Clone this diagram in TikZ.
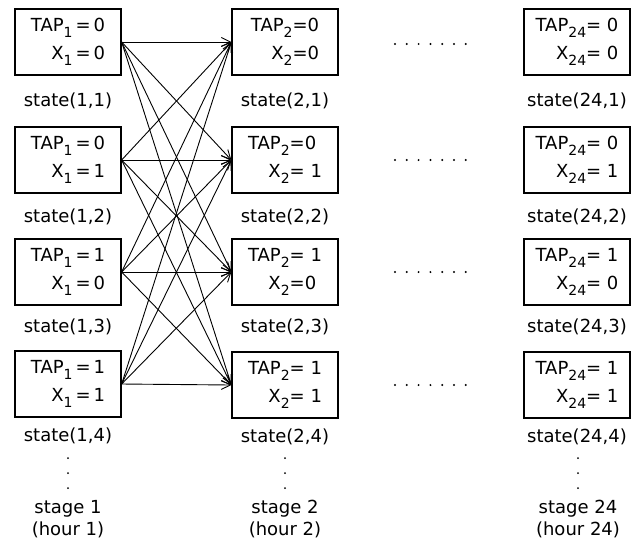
\documentclass[tikz,border=0pt]{standalone}
\usepackage{fontspec}
\setmainfont{DejaVu Sans}
\usepackage{tikz}
\usetikzlibrary{positioning,arrows.meta}

% lowered index inside the state boxes
\newcommand{\idx}[1]{\raisebox{-6pt}{\fontsize{14pt}{14pt}\selectfont #1}}

\tikzset{
  statebox/.style={draw, line width=1.3pt, minimum width=106pt, minimum height=66pt,
                   inner sep=0pt, font=\fontsize{18pt}{18pt}\selectfont},
  statelabel/.style={font=\fontsize{18pt}{22pt}\selectfont, inner sep=0pt},
  trans/.style={->, line width=0.9pt}
}

\begin{document}
\begin{tikzpicture}[x=1pt, y=-1pt, >={Straight Barb[length=9pt,width=9pt]}]
				\useasboundingbox (0,0) rectangle (644,542);
				
				% Stage 1 boxes
				\node[statebox] (s1-1) at (68,42) {\begin{tabular}{@{}r@{}l@{}}TAP\idx{1} & \,=\,0\\[9pt] X\idx{1} & \,=\,0\end{tabular}};
				\node[statebox] (s1-2) at (68,160) {\begin{tabular}{@{}r@{}l@{}}TAP\idx{1} & \,=\,0\\[9pt] X\idx{1} & \,=\,1\end{tabular}};
				\node[statebox] (s1-3) at (68,272) {\begin{tabular}{@{}r@{}l@{}}TAP\idx{1} & \,=\,1\\[9pt] X\idx{1} & \,=\,0\end{tabular}};
				\node[statebox] (s1-4) at (68,384) {\begin{tabular}{@{}r@{}l@{}}TAP\idx{1} & \,=\,1\\[9pt] X\idx{1} & \,=\,1\end{tabular}};
				
				% Stage 2 boxes
				\node[statebox] (s2-1) at (285,42) {\begin{tabular}{@{}r@{}l@{}}TAP\idx{2} & =0\\[9pt] X\idx{2} & =0\end{tabular}};
				\node[statebox] (s2-2) at (285,160) {\begin{tabular}{@{}r@{}l@{}}TAP\idx{2} & =0\\[9pt] X\idx{2} & = 1\end{tabular}};
				\node[statebox] (s2-3) at (285,272) {\begin{tabular}{@{}r@{}l@{}}TAP\idx{2} & = 1\\[9pt] X\idx{2} & =0\end{tabular}};
				\node[statebox] (s2-4) at (285,385) {\begin{tabular}{@{}r@{}l@{}}TAP\idx{2} & = 1\\[9pt] X\idx{2} & = 1\end{tabular}};
				
				% Stage 24 boxes
				\node[statebox] (s24-1) at (577,42) {\begin{tabular}{@{}r@{}l@{}}TAP\idx{24} & = 0\\[9pt] X\idx{24} & = 0\end{tabular}};
				\node[statebox] (s24-2) at (577,160) {\begin{tabular}{@{}r@{}l@{}}TAP\idx{24} & = 0\\[9pt] X\idx{24} & = 1\end{tabular}};
				\node[statebox] (s24-3) at (577,272) {\begin{tabular}{@{}r@{}l@{}}TAP\idx{24} & = 1\\[9pt] X\idx{24} & = 0\end{tabular}};
				\node[statebox] (s24-4) at (577,385) {\begin{tabular}{@{}r@{}l@{}}TAP\idx{24} & = 1\\[9pt] X\idx{24} & = 1\end{tabular}};
				
				% State names under the boxes
				\foreach \st in {1,2,24}
				\foreach \k/\gap in {1/17pt,2/15pt,3/13pt,4/10pt}
				\node[statelabel, below=\gap of s\st-\k] {state(\st,\k)};
				
				% Transitions from stage 1 to stage 2
				\foreach \i in {1,...,4}
				\foreach \j in {1,...,4}
				\draw[trans] (s1-\i.east) -- (s2-\j.west);
				
				% Gap between stage 2 and stage 24
				\foreach \k/\y in {1/44,2/160,3/272,4/385}
				\foreach \d in {0,...,6}
				\fill (395+\d*11.8,\y) circle (1.1pt);
				
				% Further states and stage names
				\foreach \st/\x in {1/68,2/285,24/578}{
					\foreach \y in {458,473,488}
					\fill (\x,\y) circle (1pt);
					\node[statelabel, align=center] (stage\st) at (\x,519) {stage \st\\(hour \st)};
				}
			\end{tikzpicture}
\end{document}
